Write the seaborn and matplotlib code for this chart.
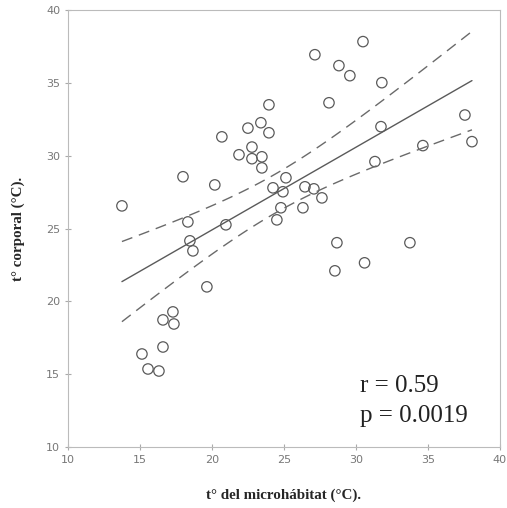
import numpy as np
import pandas as pd
import matplotlib
matplotlib.use("Agg")
import matplotlib.pyplot as plt
import seaborn as sns

# temperatura del microhábitat (x) y temperatura corporal (y)
t_micro = [13.75, 17.99, 18.33, 18.47, 18.68, 20.2, 20.69, 20.97, 21.88, 22.5,
           22.78, 22.78, 23.4, 23.96, 23.96, 23.47, 23.47, 25.14, 24.24, 24.93,
           26.46, 27.08, 27.64, 24.79, 26.32, 24.51, 28.68, 33.75, 30.6, 28.54,
           27.15, 30.49, 28.82, 29.58, 31.8, 28.13, 31.74, 31.32, 34.65, 37.57,
           38.06, 19.65, 17.29, 16.6, 17.36, 16.6, 15.14, 15.56, 16.32]
t_corp = [26.56, 28.56, 25.46, 24.16, 23.47, 28.0, 31.3, 25.26, 30.07, 31.9,
          30.6, 29.8, 32.27, 33.5, 31.58, 29.93, 29.17, 28.49, 27.8, 27.53,
          27.87, 27.73, 27.11, 26.43, 26.43, 25.6, 24.03, 24.03, 22.65, 22.1,
          36.94, 37.84, 36.19, 35.5, 35.02, 33.64, 32.0, 29.6, 30.7, 32.8,
          30.97, 21.0, 19.28, 18.73, 18.45, 16.87, 16.39, 15.36, 15.22]

r_text = "r = 0.59"
p_text = "p = 0.0019"

df = pd.DataFrame({"x": t_micro, "y": t_corp})

# recta de regresión e intervalo de confianza (95 %) de la media
x = df["x"].to_numpy()
y = df["y"].to_numpy()
n = len(x)
b, a = np.polyfit(x, y, 1)
resid = y - (a + b * x)
s = np.sqrt(np.sum(resid ** 2) / (n - 2))
sxx = np.sum((x - x.mean()) ** 2)
xs = np.linspace(x.min(), x.max(), 100)
fit = a + b * xs
half = 2.012 * s * np.sqrt(1 / n + (xs - x.mean()) ** 2 / sxx)

sns.set_style("white")
fig = plt.figure(figsize=(5.07, 5.08), dpi=100)
ax = fig.add_axes([0.134, 0.120, 0.852, 0.860])

sns.scatterplot(data=df, x="x", y="y", ax=ax, marker="o", s=56,
                facecolor="none", edgecolor="#5a5a5a", linewidth=0.9)
ax.plot(xs, fit, color="#5a5a5a", lw=1.0)
ax.plot(xs, fit + half, color="#6a6a6a", lw=1.0, ls=(0, (8, 5)))
ax.plot(xs, fit - half, color="#6a6a6a", lw=1.0, ls=(0, (8, 5)))

ax.set_xlim(10, 40)
ax.set_ylim(10, 40)
ax.set_xticks([10, 15, 20, 25, 30, 35, 40])
ax.set_yticks([10, 15, 20, 25, 30, 35, 40])
ax.tick_params(axis="both", labelsize=8, labelcolor="#777777", color="#aaaaaa",
               direction="inout", length=4, width=0.8, bottom=True, left=True)
for sp in ax.spines.values():
    sp.set_color("#bbbbbb")
    sp.set_linewidth(0.8)

ax.set_xlabel("t° del microhábitat (°C).", family="Liberation Serif",
              fontweight="bold", fontsize=10.8, labelpad=17)
ax.set_ylabel("t° corporal (°C).", family="Liberation Serif",
              fontweight="bold", fontsize=10.8, labelpad=15)

ax.text(30.3, 14.2, r_text, family="Liberation Serif", fontsize=18,
        va="center", ha="left", color="#222222")
ax.text(30.3, 12.1, p_text, family="Liberation Serif", fontsize=18,
        va="center", ha="left", color="#222222")

fig.savefig("out.png", dpi=100)
